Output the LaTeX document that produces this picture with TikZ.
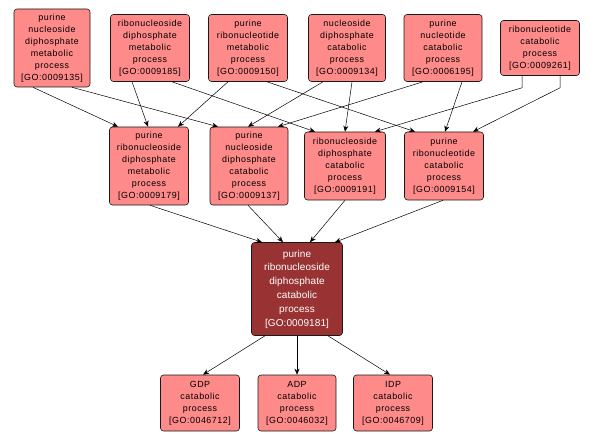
\documentclass[tikz,border=0pt]{standalone}
\usepackage{fontspec}
\setmainfont{Liberation Sans}[LetterSpace=6]
\usetikzlibrary{arrows.meta}
\definecolor{golight}{RGB}{255,138,138}
\definecolor{godark}{RGB}{153,51,51}
\tikzset{
  goterm/.style={draw=black!90, line width=0.6pt, fill=golight, rounded corners=3pt, inner sep=0pt, align=center,
    font=\fontsize{8.9}{12}\selectfont, text=black},
  gofocus/.style={goterm, fill=godark, text=white, font=\fontsize{10}{13.8}\selectfont\addfontfeature{LetterSpace=1}},
  isa/.style={-{Stealth[length=6pt,width=5pt]}, black, line width=0.5pt}
}
\begin{document}
\begin{tikzpicture}[x=1pt,y=-1pt]
  \useasboundingbox (0,0) rectangle (594,441);

  % Top row
  \node[goterm, minimum width=76pt, minimum height=78pt] (n9135) at (52,48) {purine\\nucleoside\\diphosphate\\metabolic\\process\\{[GO:0009135]}};
  \node[goterm, minimum width=79pt, minimum height=67pt] (n9185) at (150,48) {ribonucleoside\\diphosphate\\metabolic\\process\\{[GO:0009185]}};
  \node[goterm, minimum width=79pt, minimum height=67pt] (n9150) at (248,48) {purine\\ribonucleotide\\metabolic\\process\\{[GO:0009150]}};
  \node[goterm, minimum width=77pt, minimum height=67pt] (n9134) at (347,48) {nucleoside\\diphosphate\\catabolic\\process\\{[GO:0009134]}};
  \node[goterm, minimum width=78pt, minimum height=67pt] (n6195) at (443,48) {purine\\nucleotide\\catabolic\\process\\{[GO:0006195]}};
  \node[goterm, minimum width=79pt, minimum height=55pt] (n9261) at (540,48) {ribonucleotide\\catabolic\\process\\{[GO:0009261]}};

  % Middle row
  \node[goterm, minimum width=79pt, minimum height=78pt] (n9179) at (149,166) {purine\\ribonucleoside\\diphosphate\\metabolic\\process\\{[GO:0009179]}};
  \node[goterm, minimum width=78pt, minimum height=78pt] (n9137) at (249,166) {purine\\nucleoside\\diphosphate\\catabolic\\process\\{[GO:0009137]}};
  \node[goterm, minimum width=81pt, minimum height=68pt] (n9191) at (345,166) {ribonucleoside\\diphosphate\\catabolic\\process\\{[GO:0009191]}};
  \node[goterm, minimum width=79pt, minimum height=68pt] (n9154) at (444,166) {purine\\ribonucleotide\\catabolic\\process\\{[GO:0009154]}};

  % Focus term
  \node[gofocus, minimum width=91pt, minimum height=93pt] (n9181) at (297,289) {purine\\ribonucleoside\\diphosphate\\catabolic\\process\\{[GO:0009181]}};

  % Bottom row
  \node[goterm, minimum width=79pt, minimum height=56pt] (n46712) at (200,403) {GDP\\catabolic\\process\\{[GO:0046712]}};
  \node[goterm, minimum width=78pt, minimum height=56pt] (n46032) at (297,403) {ADP\\catabolic\\process\\{[GO:0046032]}};
  \node[goterm, minimum width=79pt, minimum height=56pt] (n46709) at (393,403) {IDP\\catabolic\\process\\{[GO:0046709]}};

  % Top row to middle row
  \draw[isa] ([xshift=-19pt]n9135.south) -- ([xshift=-31pt]n9179.north);
  \draw[isa] ([xshift=20pt]n9135.south) -- ([xshift=-31pt]n9137.north);
  \draw[isa] ([xshift=-18pt]n9185.south) -- ([xshift=-1pt]n9179.north);
  \draw[isa] ([xshift=22pt]n9185.south) -- ([xshift=-30pt]n9191.north);
  \draw[isa] ([xshift=-20pt]n9150.south) -- ([xshift=29pt]n9179.north);
  \draw[isa] ([xshift=19pt]n9150.south) -- ([xshift=-29pt]n9154.north);
  \draw[isa] ([xshift=-24pt]n9134.south) -- ([xshift=-1pt]n9137.north);
  \draw[isa] ([xshift=5pt]n9134.south) -- (n9191.north);
  \draw[isa] ([xshift=-20pt]n6195.south) -- ([xshift=29pt]n9137.north);
  \draw[isa] ([xshift=19pt]n6195.south) -- ([xshift=1pt]n9154.north);
  \draw[isa] ([xshift=-18pt]n9261.south) -- ++(0,12) -- ([xshift=30pt]n9191.north);
  \draw[isa] ([xshift=20pt]n9261.south) -- ++(0,12) -- ([xshift=29pt]n9154.north);

  % Middle row to focus term
  \draw[isa] ([xshift=1pt]n9179.south) -- ([xshift=-35pt]n9181.north);
  \draw[isa] ([xshift=-1pt]n9137.south) -- ([xshift=-14pt]n9181.north);
  \draw[isa] (n9191.south) -- ([xshift=13pt]n9181.north);
  \draw[isa] ([xshift=-1pt]n9154.south) -- ([xshift=38pt]n9181.north);

  % Focus term to children
  \draw[isa] ([xshift=-32pt]n9181.south) -- ([xshift=3pt]n46712.north);
  \draw[isa] (n9181.south) -- (n46032.north);
  \draw[isa] ([xshift=31pt]n9181.south) -- ([xshift=-3pt]n46709.north);
\end{tikzpicture}
\end{document}
